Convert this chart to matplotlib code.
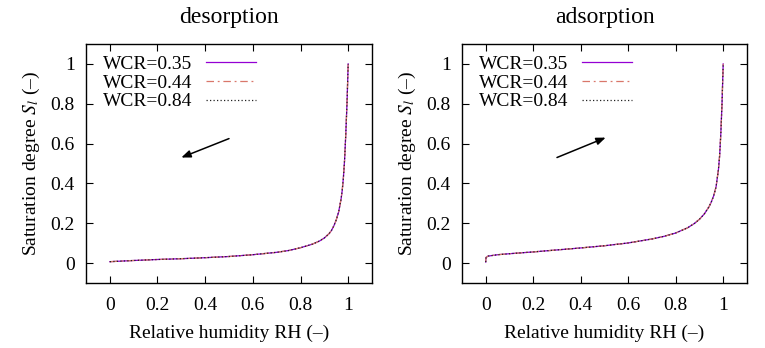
import matplotlib
matplotlib.use('Agg')
import matplotlib.pyplot as plt

plt.rcParams['font.family'] = ['Liberation Serif', 'DejaVu Serif']
plt.rcParams['mathtext.fontset'] = 'stix'

# curves of the three WCR values lie on top of each other
wcr_labels = ['WCR=0.35', 'WCR=0.44', 'WCR=0.84']

rh_des = [0, 0.05, 0.1, 0.2, 0.3, 0.4, 0.5, 0.6, 0.7, 0.75, 0.8, 0.85, 0.88, 0.9,
          0.92, 0.93, 0.94, 0.95, 0.96, 0.97, 0.975, 0.98, 0.985, 0.99, 0.995, 1.0]
s_des = [0.007, 0.010, 0.013, 0.018, 0.022, 0.027, 0.033, 0.042, 0.054, 0.063,
         0.077, 0.095, 0.111, 0.126, 0.148, 0.164, 0.187, 0.217, 0.257, 0.32,
         0.365, 0.43, 0.52, 0.65, 0.80, 1.0]

rh_ads = [0, 0.0005, 0.002, 0.01, 0.05, 0.1, 0.2, 0.3, 0.4, 0.5, 0.6, 0.7, 0.75,
          0.8, 0.85, 0.88, 0.9, 0.92, 0.94, 0.95, 0.96, 0.97, 0.98, 0.985, 0.99,
          0.995, 1.0]
s_ads = [0.005, 0.022, 0.029, 0.035, 0.042, 0.047, 0.056, 0.066, 0.076, 0.087,
         0.101, 0.121, 0.134, 0.151, 0.177, 0.2, 0.22, 0.246, 0.282, 0.307,
         0.338, 0.383, 0.47, 0.54, 0.65, 0.80, 1.0]

ticks = [0, 0.2, 0.4, 0.6, 0.8, 1]
tick_labels = ['0', '0.2', '0.4', '0.6', '0.8', '1']

styles = [dict(color='#9400d3', ls='-', lw=0.9),
          dict(color='#d9776a', ls=(0, (6, 3, 1.5, 3)), lw=0.9),
          dict(color='#222222', ls=(0, (1, 1.8)), lw=0.9)]

fig = plt.figure(figsize=(7.65, 3.48), dpi=100)
ax1 = fig.add_axes([0.1124, 0.1868, 0.3739, 0.6868])
ax2 = fig.add_axes([0.6039, 0.1868, 0.3725, 0.6868])

panels = [(ax1, 'desorption', rh_des, s_des, (0.5, 0.625), (0.3, 0.53)),
          (ax2, 'adsorption', rh_ads, s_ads, (0.3, 0.53), (0.505, 0.63))]

for ax, title, rh, s, a_from, a_to in panels:
    for lab, st in zip(wcr_labels, styles):
        ax.plot(rh, s, label=lab, **st)
    ax.set_xlim(-0.1, 1.1)
    ax.set_ylim(-0.1, 1.1)
    ax.set_xticks(ticks)
    ax.set_xticklabels(tick_labels)
    ax.set_yticks(ticks)
    ax.set_yticklabels(tick_labels)
    ax.tick_params(direction='in', top=True, right=True, length=5, width=0.8,
                   labelsize=14)
    ax.tick_params(axis='x', pad=10)
    ax.tick_params(axis='y', pad=8)
    for sp in ax.spines.values():
        sp.set_linewidth(1.0)
    ax.set_title(title, fontsize=17, pad=15)
    ax.set_xlabel('Relative humidity RH (\u2013)', fontsize=14, labelpad=8)
    ax.set_ylabel('Saturation degree $S_l$ (\u2013)', fontsize=14, labelpad=6)
    ax.annotate('', xy=a_to, xytext=a_from,
                arrowprops=dict(arrowstyle='-|>,head_length=0.55,head_width=0.22',
                                color='black', lw=1.1, shrinkA=0, shrinkB=0))
    ax.legend(loc='upper left', frameon=False, markerfirst=False, fontsize=14,
              handlelength=2.6, handletextpad=0.7, labelspacing=0.05,
              borderaxespad=0.2, bbox_to_anchor=(0.018, 1.0))

fig.savefig('out.png', dpi=100)
